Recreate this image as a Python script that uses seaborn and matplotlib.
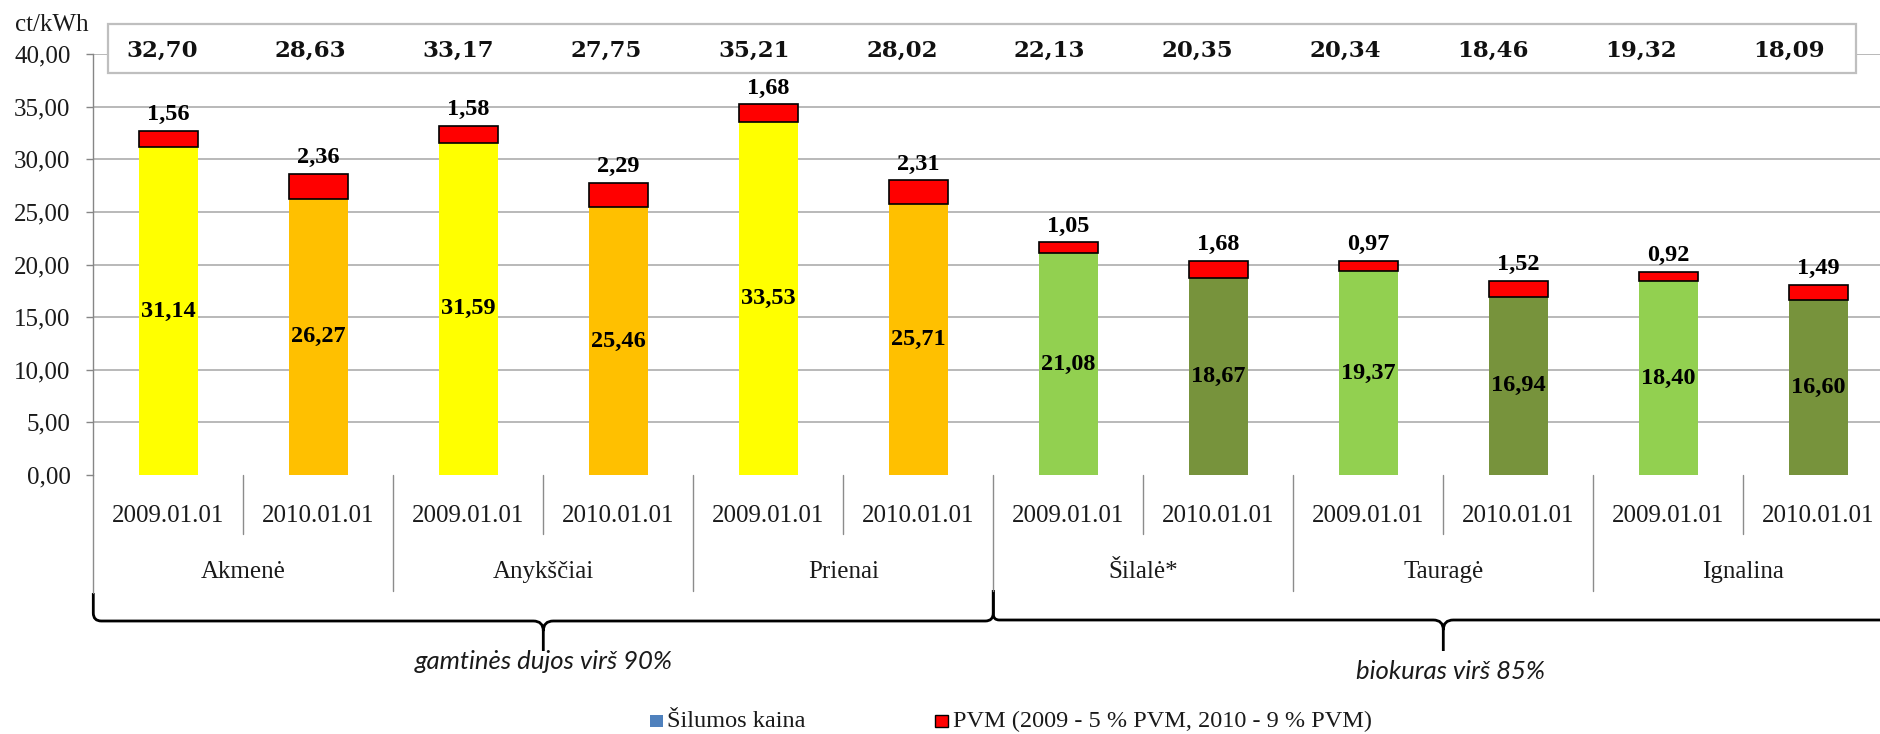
import numpy as np
import pandas as pd
import matplotlib
matplotlib.use("Agg")
import matplotlib.pyplot as plt
import matplotlib.transforms as mtransforms
from matplotlib.path import Path
from matplotlib.patches import PathPatch, Rectangle
import seaborn as sns

# ---------------- data ----------------
cities = ["Akmenė", "Anykščiai", "Prienai", "Šilalė*", "Tauragė", "Ignalina"]
dates = ["2009.01.01", "2010.01.01"] * 6
base = [31.14, 26.27, 31.59, 25.46, 33.53, 25.71, 21.08, 18.67, 19.37, 16.94, 18.40, 16.60]
pvm = [1.56, 2.36, 1.58, 2.29, 1.68, 2.31, 1.05, 1.68, 0.97, 1.52, 0.92, 1.49]
totals = [32.70, 28.63, 33.17, 27.75, 35.21, 28.02, 22.13, 20.35, 20.34, 18.46, 19.32, 18.09]
bar_colors = ["#FFFF00", "#FFC000"] * 3 + ["#92D050", "#77933C"] * 3
groups = ["gamtinės dujos virš 90%", "biokuras virš 85%"]
yticks = [0, 5, 10, 15, 20, 25, 30, 35, 40]
legend_labels = ["Šilumos kaina", "PVM (2009 - 5 % PVM, 2010 - 9 % PVM)"]
unit = "ct/kWh"

def fmt(v):
    return f"{v:.2f}".replace(".", ",")

# ---------------- style ----------------
sns.set_theme(style="white")
plt.rcParams['font.family'] = ['Liberation Serif', 'DejaVu Serif']

W, H = 1880, 734
fig = plt.figure(figsize=(W / 100, H / 100), dpi=100)

def fx(px):
    return px / W

def fy(py):
    return 1 - py / H

AX_LEFT, AX_TOP, AX_BOT, SLOT = 93.3, 54, 475, 150
ax = fig.add_axes([fx(AX_LEFT), fy(AX_BOT), SLOT * 12 / W, (AX_BOT - AX_TOP) / H])
trans = mtransforms.blended_transform_factory(ax.transData, ax.transAxes)

def ya(py):
    return (AX_BOT - py) / (AX_BOT - AX_TOP)

keys = [f"{cities[i // 2]} {dates[i]}" for i in range(12)]
df = pd.DataFrame({"key": keys, "base": base, "pvm": pvm})

sns.barplot(data=df, x="key", y="base", hue="key",
            palette=dict(zip(keys, bar_colors)), width=0.395,
            saturation=1, legend=False, linewidth=0, ax=ax, zorder=2)
ax.bar(np.arange(12), df["pvm"], bottom=df["base"], width=0.395,
       color="#FF0000", edgecolor="black", linewidth=1.2, zorder=3)

ax.set_xlim(-0.5, 11.5)
ax.set_ylim(0, 40)
ax.set_xlabel("")
ax.set_ylabel("")

# grid & spines
GRID = "#A6A6A6"
ax.set_axisbelow(True)
for y in yticks[1:]:
    ax.axhline(y, color=GRID, lw=1.1, zorder=0.5)
for s in ["top", "right", "bottom"]:
    ax.spines[s].set_visible(False)
ax.spines["left"].set_color("#868686")
ax.spines["left"].set_linewidth(1.0)

ax.set_yticks(yticks)
ax.set_yticklabels([fmt(v) for v in yticks], fontsize=18, color="#1a1a1a")
ax.tick_params(axis="y", length=5, width=1, color="#868686", pad=11.5, left=True)

ax.set_xticks(range(12))
ax.set_xticklabels(dates, fontsize=18, color="#1a1a1a")
ax.tick_params(axis="x", length=0, pad=21.5)

# category separators below axis
SEP = "#8C8C8C"
ax.plot([-0.5, -0.5], [0, ya(593)], transform=trans, clip_on=False, color=SEP, lw=1.0)
for i in range(11):
    x = i + 0.5
    bottom = ya(591) if i % 2 == 1 else ya(534)
    ax.plot([x, x], [0, bottom], transform=trans, clip_on=False, color=SEP, lw=1.0)

# city names
for j, c in enumerate(cities):
    ax.text(2 * j + 0.5, ya(578), c, transform=trans, ha="center", va="baseline",
            fontsize=18, color="#1a1a1a")

# value labels
for i in range(12):
    ax.text(i, base[i] / 2, fmt(base[i]), ha="center", va="center",
            fontsize=17.5, fontweight="bold", color="black", zorder=5)
    ax.annotate(fmt(pvm[i]), (i, base[i] + pvm[i]), xytext=(0, 4),
                textcoords="offset points", ha="center", va="bottom",
                fontsize=17.5, fontweight="bold", color="black", zorder=5)

# totals box
box = Rectangle((fx(108), fy(73)), fx(1856) - fx(108), fy(24) - fy(73),
                transform=fig.transFigure, facecolor="white", edgecolor="#BFBFBF",
                lw=1.6, zorder=4, clip_on=False)
ax.add_patch(box)
for i, t in enumerate(totals):
    ax.text(i * 0.986 - 0.04, ya(51), fmt(t), transform=trans, ha="center", va="center",
            fontsize=16.5, fontweight="bold", family=["DejaVu Serif"], color="#111111",
            zorder=6, clip_on=False)

# unit label
fig.text(fx(15), fy(25), unit, ha="left", va="center", fontsize=18, color="#1a1a1a")

# braces
def brace(x0, x1, xm, ytop0, ytop1, yh, ytip, r_end=8, r_tip=10):
    rx_e, rx_t = r_end / SLOT, r_tip / SLOT
    dy = lambda p: ya(p)
    verts = [
        (x0, dy(ytop0)), (x0, dy(yh - r_end)),
        (x0, dy(yh)), (x0 + rx_e, dy(yh)),
        (xm - rx_t, dy(yh)),
        (xm, dy(yh)), (xm, dy(yh + r_tip)),
        (xm, dy(ytip)),
        (xm, dy(yh + r_tip)),
        (xm, dy(yh)), (xm + rx_t, dy(yh)),
        (x1 - rx_e, dy(yh)),
        (x1, dy(yh)), (x1, dy(yh - r_end)),
        (x1, dy(ytop1)),
    ]
    codes = [Path.MOVETO, Path.LINETO,
             Path.CURVE3, Path.CURVE3,
             Path.LINETO,
             Path.CURVE3, Path.CURVE3,
             Path.LINETO,
             Path.MOVETO,
             Path.CURVE3, Path.CURVE3,
             Path.LINETO,
             Path.CURVE3, Path.CURVE3,
             Path.LINETO]
    p = PathPatch(Path(verts, codes), transform=trans, facecolor="none",
                  edgecolor="black", lw=2.0, clip_on=False, capstyle="butt",
                  joinstyle="round")
    ax.add_patch(p)

brace(-0.5, 5.5, 2.5, 593, 590, 621, 651)
brace(5.5, 11.5, 8.5, 590, 590, 620, 651, r_end=6)

ax.text(2.5, ya(662), groups[0], transform=trans, ha="center", va="center",
        fontsize=18.5, style="italic", family=["Lato", "DejaVu Sans"], color="#1a1a1a")
ax.text(8.55, ya(672), groups[1], transform=trans, ha="center", va="center",
        fontsize=18.5, style="italic", family=["Lato", "DejaVu Sans"], color="#1a1a1a")

# legend
fig.patches.append(Rectangle((fx(650), fy(727)), fx(663) - fx(650), fy(715) - fy(727),
                             transform=fig.transFigure, facecolor="#4F81BD",
                             edgecolor="none"))
fig.text(fx(667), fy(727), legend_labels[0], ha="left", va="baseline",
         fontsize=17.5, color="#1a1a1a")
fig.patches.append(Rectangle((fx(935), fy(727)), fx(948) - fx(935), fy(715) - fy(727),
                             transform=fig.transFigure, facecolor="#FF0000",
                             edgecolor="black", lw=1.0))
fig.text(fx(953), fy(727), legend_labels[1], ha="left", va="baseline",
         fontsize=17.5, color="#1a1a1a")

fig.savefig("out.png", dpi=100, facecolor="white")
